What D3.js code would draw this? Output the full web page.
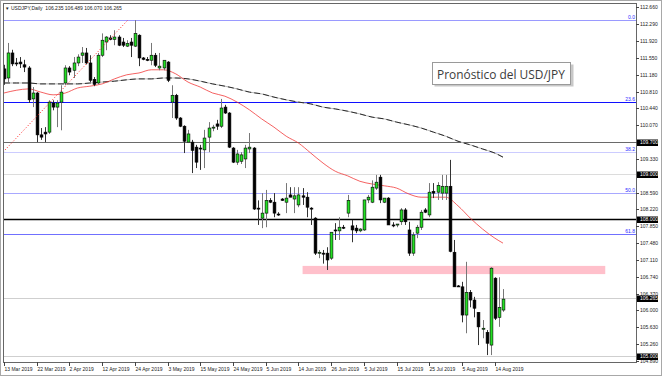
<!DOCTYPE html>
<html>
<head>
<meta charset="utf-8">
<script src="https://cdn.jsdelivr.net/npm/d3@7"></script>
<style>
body { margin: 0; background: #fff; }
svg { display: block; }
</style>
</head>
<body>
<script>
// USDJPY daily bars, 13 Mar 2019 .. 16 Aug 2019
var opens = [111.31,111.11,111.66,111.44,111.46,111.40,111.33,110.65,110.78,109.86,
  109.92,109.92,110.56,110.47,110.58,111.00,111.33,111.28,111.44,111.61,
  111.66,111.44,111.08,111.00,111.61,111.90,111.99,111.96,112.01,111.90,
  111.81,111.90,111.81,112.05,111.55,111.52,111.50,111.61,111.33,111.33,
  111.46,110.58,110.73,110.23,110.05,109.70,109.70,109.59,109.57,109.53,
  109.81,110.01,110.10,110.05,110.47,110.34,109.57,109.26,109.28,109.33,
  109.55,109.57,108.25,108.03,108.14,108.42,108.38,108.12,108.45,108.38,
  108.54,108.45,108.32,108.52,108.49,108.25,108.03,107.26,107.26,107.26,
  107.15,107.77,107.75,107.83,108.14,107.86,107.81,107.75,107.77,108.43,
  108.38,108.69,108.93,108.38,108.47,107.88,107.88,107.95,108.21,107.77,
  107.26,107.70,107.83,108.21,108.10,108.62,108.60,108.58,108.58,108.73,
  107.28,106.54,106.52,105.90,106.40,106.23,105.96,105.61,105.52,105.24,
  106.71,105.85,106.01];
var highs = [111.40,111.88,111.73,111.55,111.57,111.51,111.37,110.91,110.80,110.01,
  110.03,110.62,110.62,110.62,110.95,111.39,111.37,111.57,111.63,111.79,
  111.77,111.61,111.13,111.66,112.09,112.03,112.05,112.16,112.05,111.99,
  111.94,111.99,112.38,112.07,111.57,111.57,111.88,111.66,111.66,111.50,
  111.48,110.95,110.76,110.25,110.07,109.97,109.75,109.64,109.64,109.97,
  110.14,110.08,110.19,110.65,110.52,110.36,109.59,109.53,109.48,109.64,
  109.90,109.59,108.42,108.58,108.65,108.47,108.58,108.16,108.47,108.80,
  108.71,108.71,108.71,108.69,108.60,108.27,108.05,107.33,107.33,107.39,
  107.72,107.92,108.05,107.88,108.54,107.99,107.88,107.81,108.43,108.54,
  108.86,108.98,108.98,108.47,108.49,107.94,107.90,108.25,108.25,107.95,
  107.72,107.88,108.21,108.25,108.80,108.80,108.82,108.98,108.98,109.31,
  107.55,106.56,106.63,107.07,106.45,106.30,105.96,105.79,105.57,106.95,
  106.73,106.73,106.47];
var lows = [110.96,111.00,111.37,111.37,111.33,111.24,110.56,110.47,109.70,109.75,
  109.70,109.88,110.40,110.03,109.96,110.95,111.17,111.11,111.37,111.44,
  111.41,111.02,110.93,110.97,111.57,111.72,111.94,111.83,111.81,111.79,
  111.79,111.57,111.79,111.37,111.50,111.48,111.39,111.35,111.28,111.28,
  111.02,110.23,110.19,110.03,109.46,109.68,109.02,109.13,109.09,109.13,
  109.48,109.94,109.97,110.01,110.32,109.57,109.24,109.20,109.22,109.13,
  109.46,108.21,107.88,107.81,107.83,108.36,108.05,108.08,108.41,108.14,
  108.49,108.14,108.27,108.32,108.05,107.88,107.22,107.15,107.03,106.89,
  107.11,107.55,107.55,107.79,108.05,107.50,107.70,107.72,107.75,108.36,
  108.36,108.65,108.36,108.36,107.88,107.83,107.83,107.88,107.88,107.20,
  107.20,107.59,107.77,108.14,108.05,108.47,108.43,108.43,108.43,107.28,
  106.52,106.52,105.74,105.50,106.07,105.85,105.24,105.39,105.02,105.02,
  105.79,105.64,105.97];
var closes = [111.09,111.66,111.42,111.43,111.42,111.35,110.63,110.78,109.86,109.81,
  109.88,110.58,110.47,110.56,110.80,111.33,111.24,111.44,111.57,111.66,
  111.44,111.06,110.97,111.61,111.94,112.01,111.96,112.01,111.83,111.83,
  111.87,111.83,112.09,111.55,111.52,111.51,111.61,111.39,111.37,111.50,
  111.06,110.73,110.23,110.05,109.72,109.88,109.52,109.26,109.55,109.79,
  110.01,110.03,110.05,110.45,110.34,109.59,109.26,109.44,109.42,109.57,
  109.59,108.23,108.23,108.14,108.42,108.38,108.14,108.10,108.42,108.47,
  108.49,108.52,108.54,108.49,108.27,108.23,107.26,107.28,107.25,107.11,
  107.72,107.75,107.83,107.81,108.42,107.77,107.75,107.79,108.43,108.49,
  108.71,108.82,108.43,108.47,107.88,107.87,107.90,108.21,107.95,107.26,
  107.66,107.83,108.16,108.16,108.60,108.58,108.75,108.73,108.73,107.30,
  106.52,106.53,105.90,106.40,106.23,106.05,105.64,105.61,105.28,106.93,
  105.83,106.07,106.25];

// moving averages, sampled every third bar
var maBars = [0,3,6,9,12,15,18,21,24,27,30,33,36,39,42,45,48,51,54,57,60,
  63,66,69,72,75,78,81,84,87,90,93,96,99,102,105,108,111,114,117,120,122];
var maFast = [110.78,110.84,110.87,110.80,110.74,110.78,110.89,110.93,110.98,111.09,
  111.18,111.22,111.29,111.29,111.20,111.02,110.91,110.78,110.71,110.58,110.41,
  110.21,110.03,109.83,109.68,109.46,109.24,109.06,108.96,108.84,108.78,
  108.74,108.69,108.56,108.49,108.49,108.49,108.30,108.03,107.79,107.59,107.48];
var maSlow = [111.00,111.00,111.00,110.98,110.98,110.98,110.98,111.00,111.02,111.04,
  111.07,111.09,111.09,111.11,111.11,111.09,111.04,110.98,110.93,110.87,110.80,
  110.76,110.69,110.63,110.58,110.54,110.47,110.43,110.38,110.32,110.25,
  110.21,110.14,110.08,110.01,109.92,109.83,109.72,109.64,109.55,109.46,109.37];

// fibonacci retracement
var fibHigh = 112.385, fibLow = 104.785;
var fibLevels = [0, 23.6, 38.2, 50.0, 61.8];
var fibNames = ["0.0", "23.6", "38.2", "50.0", "61.8"];
var fibColors = ["#9a9aff", "#1010ff", "#ccccff", "#a8a8ff", "#7070ff"];
var fibTrendBars = [-0.25, 30.3];
var fibTrendPrices = [109.48, 112.385];

// horizontal price lines
var levelPrices = [109.70, 109.00, 108.00, 106.265, 105.00];
var levelLabels = ["109.700", "109.000", "108.000", "106.265", "105.000"];
var levelColors = ["#6a6a6a", "#dcdcdc", "#000", "#cfcfcf", "#cfcfcf"];
var levelWidths = [1, 1, 1.3, 1, 1];

// resistance zone
var zoneBars = [73, 147];
var zonePrices = [106.80, 106.98];

// price scale labels (108.960 sits under the 109.000 marker and is not shown)
var priceTicks = [112.66,112.29,111.92,111.55,111.18,110.81,110.44,110.07,109.70,109.33,
  108.59,108.22,107.85,107.48,107.11,106.74,106.37,106.00,105.63,105.26,104.89];
var dateBars = [0,8,16,24,32,40,48,56,64,72,80,88,96,104,112,120];
var dateLabels = ["13 Mar 2019","22 Mar 2019","2 Apr 2019","12 Apr 2019","24 Apr 2019",
  "3 May 2019","15 May 2019","24 May 2019","5 Jun 2019","14 Jun 2019","26 Jun 2019",
  "5 Jul 2019","15 Jul 2019","25 Jul 2019","5 Aug 2019","14 Aug 2019"];

var headerText = "USDJPY,Daily  106.235 106.489 106.070 106.265";
var titleText = "Pronóstico del USD/JPY";

var W = 662, H = 376;
var plotL = 3, plotR = 636, plotT = 3, plotB = 362;

var x = d3.scaleLinear().domain([0, 122]).range([4, 503]);
var y = d3.scaleLinear().domain([104.868, 112.758]).range([plotB, plotT]);

var svg = d3.select("body").append("svg")
    .attr("width", W).attr("height", H)
    .style("font-family", "'Liberation Sans', Arial, sans-serif");

svg.append("rect").attr("width", W).attr("height", H).attr("fill", "#fff");

svg.append("defs").append("clipPath").attr("id", "plot")
  .append("rect").attr("x", plotL).attr("y", plotT)
  .attr("width", plotR - plotL).attr("height", plotB - plotT);

var g = svg.append("g").attr("clip-path", "url(#plot)");

// pink zone
g.append("rect")
    .attr("x", x(zoneBars[0])).attr("width", x(zoneBars[1]) - x(zoneBars[0]))
    .attr("y", y(zonePrices[1])).attr("height", y(zonePrices[0]) - y(zonePrices[1]))
    .attr("fill", "#ffc0cb");

// horizontal price levels
levelPrices.forEach(function(p, i) {
    var yy = Math.round(y(p)) + 0.5;
    g.append("line").attr("x1", plotL).attr("x2", plotR).attr("y1", yy).attr("y2", yy)
        .attr("stroke", levelColors[i]).attr("stroke-width", levelWidths[i]);
});

// fib lines
fibLevels.forEach(function(f, i) {
    var p = fibHigh - (fibHigh - fibLow) * f / 100;
    var yy = Math.round(y(p)) + 0.5;
    g.append("line").attr("x1", plotL).attr("x2", plotR).attr("y1", yy).attr("y2", yy)
        .attr("stroke", fibColors[i]).attr("stroke-width", 1);
    g.append("text").attr("x", plotR - 1).attr("y", yy - 1.5)
        .attr("text-anchor", "end").attr("font-size", 5).attr("fill", "#2a2aff")
        .text(fibNames[i]);
});

// moving averages
var maLine = d3.line().x(function(d) { return x(d[0]); }).y(function(d) { return y(d[1]); })
    .curve(d3.curveMonotoneX);
var slowPts = maBars.map(function(b, i) { return [b, maSlow[i]]; });
var fastPts = maBars.map(function(b, i) { return [b, maFast[i]]; });
g.append("path").attr("d", maLine(slowPts)).attr("fill", "none")
    .attr("stroke", "#b8b8b8").attr("stroke-width", 1);
g.append("path").attr("d", maLine(slowPts)).attr("fill", "none")
    .attr("stroke", "#1a1a1a").attr("stroke-width", 0.9).attr("stroke-dasharray", "6,3");
g.append("path").attr("d", maLine(fastPts)).attr("fill", "none")
    .attr("stroke", "#f03030").attr("stroke-width", 0.9).attr("stroke-opacity", 0.85);

// candles
var bars = d3.range(opens.length);
g.selectAll("line.wick").data(bars).join("line").attr("class", "wick")
    .attr("x1", function(i) { return Math.round(x(i)) + 0.5; })
    .attr("x2", function(i) { return Math.round(x(i)) + 0.5; })
    .attr("y1", function(i) { return y(highs[i]); })
    .attr("y2", function(i) { return y(lows[i]); })
    .attr("stroke", function(i) { return closes[i] >= opens[i] ? "#777" : "#333"; })
    .attr("stroke-width", 1);
g.selectAll("rect.body").data(bars).join("rect").attr("class", "body")
    .attr("x", function(i) { return Math.round(x(i)) - 0.9; })
    .attr("width", 2.8)
    .attr("y", function(i) { return y(Math.max(opens[i], closes[i])); })
    .attr("height", function(i) { return Math.max(1, Math.abs(y(opens[i]) - y(closes[i]))); })
    .attr("fill", function(i) { return closes[i] >= opens[i] ? "#22e022" : "#000"; })
    .attr("stroke", "#000").attr("stroke-width", 0.6);

// dotted fib trend line
g.append("line")
    .attr("x1", x(fibTrendBars[0])).attr("y1", y(fibTrendPrices[0]))
    .attr("x2", x(fibTrendBars[1])).attr("y2", y(fibTrendPrices[1]))
    .attr("stroke", "#ff2020").attr("stroke-width", 1).attr("stroke-dasharray", "1,2");

// frames
svg.append("rect").attr("x", 0.5).attr("y", 0.5).attr("width", W - 1).attr("height", H - 1)
    .attr("fill", "none").attr("stroke", "#a8a8a8");
svg.append("rect").attr("x", plotL + 0.5).attr("y", plotT + 0.5)
    .attr("width", plotR - plotL).attr("height", plotB - plotT)
    .attr("fill", "none").attr("stroke", "#666");

// price axis
var ax = svg.append("g").attr("font-size", 5).attr("fill", "#222");
priceTicks.forEach(function(p) {
    var yy = Math.round(y(p)) + 0.5;
    ax.append("line").attr("x1", plotR).attr("x2", plotR + 3).attr("y1", yy).attr("y2", yy)
        .attr("stroke", "#444");
    ax.append("text").attr("x", plotR + 4).attr("y", yy + 1.5).text(p.toFixed(3));
});
levelPrices.forEach(function(p, i) {
    var yy = Math.round(y(p)) + 0.5;
    ax.append("rect").attr("x", plotR + 1).attr("y", yy - 3).attr("width", 21).attr("height", 6.5)
        .attr("fill", "#000");
    ax.append("text").attr("x", plotR + 4).attr("y", yy + 1.8).attr("fill", "#fff")
        .text(levelLabels[i]);
});

// date axis
dateBars.forEach(function(b, i) {
    var xx = Math.round(x(b)) + 0.5;
    ax.append("line").attr("x1", xx).attr("x2", xx).attr("y1", plotB).attr("y2", plotB + 4)
        .attr("stroke", "#444");
    ax.append("text").attr("x", xx).attr("y", plotB + 8.5).text(dateLabels[i]);
});

// header
svg.append("text").attr("x", 5).attr("y", 9.5).attr("font-size", 4.5).attr("fill", "#222").text("\u25BC");
svg.append("text").attr("x", 11).attr("y", 9.5).attr("font-size", 5)
    .attr("fill", "#222").attr("xml:space", "preserve").text(headerText);

// title box
var box = svg.append("g");
box.append("rect").attr("x", 434.5).attr("y", 64.5).attr("width", 139).attr("height", 22)
    .attr("fill", "#c8c8c8");
box.append("rect").attr("x", 432.5).attr("y", 62.5).attr("width", 138).attr("height", 22)
    .attr("fill", "#fff").attr("stroke", "#9a9a9a");
var t = box.append("text").attr("x", 437).attr("y", 78.5)
    .attr("font-family", "'Open Sans', 'Noto Sans', sans-serif")
    .attr("font-size", 13).attr("fill", "#3c3c3c").text(titleText);
var tw = t.node().getComputedTextLength();
t.attr("font-size", 13 * 128 / tw);
</script>
</body>
</html>
